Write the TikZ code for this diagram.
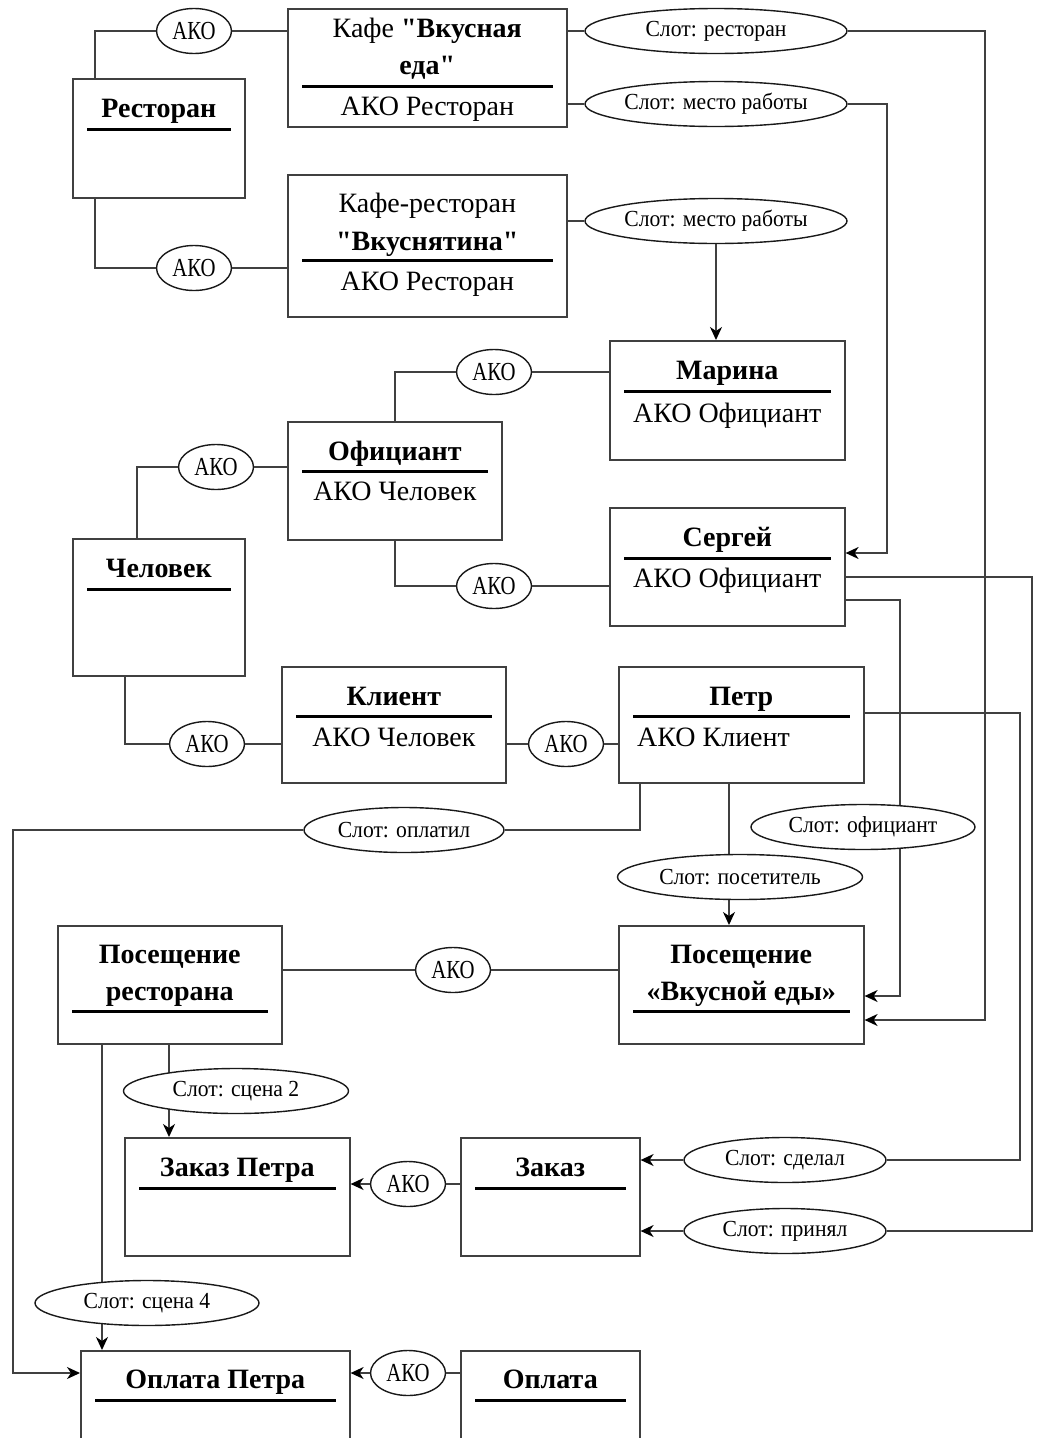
\documentclass[tikz,border=0pt]{standalone}
\usepackage{fontspec}
\setmainfont{Liberation Serif}[Ligatures=TeXOff]
\newfontfamily\akofont{Liberation Serif}[FakeStretch=0.8]
\newfontfamily\slotfont{Liberation Serif}[FakeStretch=0.94]
\usetikzlibrary{shapes.geometric, arrows.meta, positioning, calc}
\tikzstyle{frm} = [rectangle, draw=black!75, line width=1.6pt, anchor=north west, inner sep=0pt]
\tikzstyle{ttl} = [font=\fontsize{28}{32}\selectfont\bfseries, anchor=base, inner sep=0pt]
\tikzstyle{txt} = [font=\fontsize{28}{32}\selectfont, anchor=base, inner sep=0pt]
\tikzstyle{underl} = [line width=3pt]
\tikzstyle{ako} = [ellipse, draw=black!90, line width=1.4pt, fill=white, minimum width=75pt, minimum height=45pt, inner sep=0pt, font=\akofont\fontsize{26}{30}\selectfont]
\tikzstyle{slot} = [ellipse, draw=black!90, line width=1.4pt, fill=white, minimum height=45pt, inner sep=0pt, font=\slotfont\fontsize{23}{27}\selectfont]
\tikzstyle{conn} = [draw=black!75, line width=1.6pt]
\tikzstyle{arrow} = [conn, -{Stealth[length=13pt, width=12pt, inset=4pt, black]}]

\begin{document}
\begin{tikzpicture}[x=1pt, y=-1pt]
\useasboundingbox (0,0) rectangle (1040,1438);
\clip (0,0) rectangle (1040,1438);

% frames
\node (rest) [frm, minimum width=172pt, minimum height=119pt] at (72,78) {};
\node (restT) [ttl] at ([yshift=-39pt]rest.north) {Ресторан};
\draw [underl] ([xshift=15pt, yshift=-51pt]rest.north west) -- ([xshift=-15pt, yshift=-51pt]rest.north east);

\node (cafe) [frm, minimum width=279pt, minimum height=118pt] at (287,8) {};
\node (cafeT) [txt] at ([yshift=-29pt]cafe.north) {Кафе \textbf{"Вкусная}};
\node (cafeT2) [ttl] at ([yshift=-66pt]cafe.north) {еда"};
\draw [underl] ([xshift=15pt, yshift=-78pt]cafe.north west) -- ([xshift=-15pt, yshift=-78pt]cafe.north east);
\node (cafeS) [txt] at ([yshift=-107pt]cafe.north) {АКО Ресторан};

\node (vkus) [frm, minimum width=279pt, minimum height=142pt] at (287,174) {};
\node (vkusT) [txt] at ([yshift=-38pt]vkus.north) {Кафе-ресторан};
\node (vkusT2) [ttl] at ([yshift=-76pt]vkus.north) {"Вкуснятина"};
\draw [underl] ([xshift=15pt, yshift=-86pt]vkus.north west) -- ([xshift=-15pt, yshift=-86pt]vkus.north east);
\node (vkusS) [txt] at ([yshift=-116pt]vkus.north) {АКО Ресторан};

\node (marina) [frm, minimum width=235pt, minimum height=119pt] at (609,340) {};
\node (marinaT) [ttl] at ([yshift=-39pt]marina.north) {Марина};
\draw [underl] ([xshift=15pt, yshift=-51pt]marina.north west) -- ([xshift=-15pt, yshift=-51pt]marina.north east);
\node (marinaS) [txt] at ([yshift=-82pt]marina.north) {АКО Официант};

\node (waiter) [frm, minimum width=214pt, minimum height=118pt] at (287,421) {};
\node (waiterT) [ttl] at ([yshift=-39pt]waiter.north) {Официант};
\draw [underl] ([xshift=15pt, yshift=-50pt]waiter.north west) -- ([xshift=-15pt, yshift=-50pt]waiter.north east);
\node (waiterS) [txt] at ([yshift=-79pt]waiter.north) {АКО Человек};

\node (sergey) [frm, minimum width=235pt, minimum height=118pt] at (609,507) {};
\node (sergeyT) [ttl] at ([yshift=-39pt]sergey.north) {Сергей};
\draw [underl] ([xshift=15pt, yshift=-51pt]sergey.north west) -- ([xshift=-15pt, yshift=-51pt]sergey.north east);
\node (sergeyS) [txt] at ([yshift=-80pt]sergey.north) {АКО Официант};

\node (human) [frm, minimum width=172pt, minimum height=137pt] at (72,538) {};
\node (humanT) [ttl] at ([yshift=-39pt]human.north) {Человек};
\draw [underl] ([xshift=15pt, yshift=-51pt]human.north west) -- ([xshift=-15pt, yshift=-51pt]human.north east);

\node (client) [frm, minimum width=224pt, minimum height=116pt] at (281,666) {};
\node (clientT) [ttl] at ([yshift=-39pt]client.north) {Клиент};
\draw [underl] ([xshift=15pt, yshift=-50pt]client.north west) -- ([xshift=-15pt, yshift=-50pt]client.north east);
\node (clientS) [txt] at ([yshift=-80pt]client.north) {АКО Человек};

\node (petr) [frm, minimum width=245pt, minimum height=116pt] at (618,666) {};
\node (petrT) [ttl] at ([yshift=-39pt]petr.north) {Петр};
\draw [underl] ([xshift=15pt, yshift=-50pt]petr.north west) -- ([xshift=-15pt, yshift=-50pt]petr.north east);
\node (petrS) [txt, anchor=base west] at ([xshift=19pt, yshift=-80pt]petr.north west) {АКО Клиент};

\node (visit) [frm, minimum width=224pt, minimum height=118pt] at (57,925) {};
\node (visitT) [ttl] at ([yshift=-38pt]visit.north) {Посещение};
\node (visitT2) [ttl] at ([yshift=-75pt]visit.north) {ресторана};
\draw [underl] ([xshift=15pt, yshift=-86pt]visit.north west) -- ([xshift=-15pt, yshift=-86pt]visit.north east);

\node (tasty) [frm, minimum width=245pt, minimum height=118pt] at (618,925) {};
\node (tastyT) [ttl] at ([yshift=-38pt]tasty.north) {Посещение};
\node (tastyT2) [ttl] at ([yshift=-75pt]tasty.north) {«Вкусной еды»};
\draw [underl] ([xshift=15pt, yshift=-86pt]tasty.north west) -- ([xshift=-15pt, yshift=-86pt]tasty.north east);

\node (orderP) [frm, minimum width=225pt, minimum height=118pt] at (124,1137) {};
\node (orderPT) [ttl] at ([yshift=-39pt]orderP.north) {Заказ Петра};
\draw [underl] ([xshift=15pt, yshift=-51pt]orderP.north west) -- ([xshift=-15pt, yshift=-51pt]orderP.north east);

\node (order) [frm, minimum width=179pt, minimum height=118pt] at (460,1137) {};
\node (orderT) [ttl] at ([yshift=-39pt]order.north) {Заказ};
\draw [underl] ([xshift=15pt, yshift=-51pt]order.north west) -- ([xshift=-15pt, yshift=-51pt]order.north east);

\node (payP) [frm, minimum width=269pt, minimum height=120pt] at (80,1350) {};
\node (payPT) [ttl] at ([yshift=-38pt]payP.north) {Оплата Петра};
\draw [underl] ([xshift=15pt, yshift=-50pt]payP.north west) -- ([xshift=-15pt, yshift=-50pt]payP.north east);

\node (pay) [frm, minimum width=179pt, minimum height=120pt] at (460,1350) {};
\node (payT) [ttl] at ([yshift=-38pt]pay.north) {Оплата};
\draw [underl] ([xshift=15pt, yshift=-50pt]pay.north west) -- ([xshift=-15pt, yshift=-50pt]pay.north east);

% lines running behind the slot ellipses
\draw [arrow] (sergey.east |- 0,600) -- (900,600) -- (900,996) -- (tasty.east |- 0,996);
\draw [arrow] (petr.south -| 729,0) -- (tasty.north -| 729,0);
\draw [arrow] (visit.south -| 169,0) -- (orderP.north -| 169,0);
\draw [arrow] (visit.south -| 102,0) -- (payP.north -| 102,0);

% ellipses
\node (a1) [ako] at (194,31) {АКО};
\node (a2) [ako] at (194,268) {АКО};
\node (a3) [ako] at (494,372) {АКО};
\node (a4) [ako] at (216,467) {АКО};
\node (a5) [ako] at (494,586) {АКО};
\node (a6) [ako] at (207,744) {АКО};
\node (a7) [ako] at (566,744) {АКО};
\node (a8) [ako] at (453,970) {АКО};
\node (a9) [ako] at (408,1184) {АКО};
\node (a10) [ako] at (408,1373) {АКО};

\node (sRest) [slot, minimum width=262pt] at (716,31) {Слот: ресторан};
\node (sWork1) [slot, minimum width=262pt] at (716,104) {Слот: место работы};
\node (sWork2) [slot, minimum width=262pt] at (716,221) {Слот: место работы};
\node (sPaid) [slot, minimum width=200pt] at (404,830) {Слот: оплатил};
\node (sWaiter) [slot, minimum width=224pt] at (863,827) {Слот: официант};
\node (sVisitor) [slot, minimum width=245pt] at (740,877) {Слот: посетитель};
\node (sScene2) [slot, minimum width=225pt] at (236,1091) {Слот: сцена 2};
\node (sMade) [slot, minimum width=202pt] at (785,1160) {Слот: сделал};
\node (sTook) [slot, minimum width=202pt] at (785,1231) {Слот: принял};
\node (sScene4) [slot, minimum width=224pt] at (147,1303) {Слот: сцена 4};

% restaurants
\draw [conn] (rest.north -| 95,0) |- (a1.west);
\draw [conn] (a1.east) -- (cafe.west |- a1.east);
\draw [conn] (rest.south -| 95,0) |- (a2.west);
\draw [conn] (a2.east) -- (vkus.west |- a2.east);
\draw [conn] (cafe.east |- sRest.west) -- (sRest.west);
\draw [arrow] (sRest.east) -| (985,1020) -- (tasty.east |- 0,1020);
\draw [conn] (cafe.east |- sWork1.west) -- (sWork1.west);
\draw [arrow] (sWork1.east) -| (887,553) -- (sergey.east |- 0,553);
\draw [conn] (vkus.east |- sWork2.west) -- (sWork2.west);
\draw [arrow] (sWork2.south) -- (marina.north -| sWork2.south);

% waiters
\draw [conn] (waiter.north) |- (a3.west);
\draw [conn] (a3.east) -- (marina.west |- a3.east);
\draw [conn] (waiter.south) |- (a5.west);
\draw [conn] (a5.east) -- (sergey.west |- a5.east);
\draw [conn] (human.north -| 137,0) |- (a4.west);
\draw [conn] (a4.east) -- (waiter.west |- a4.east);
\draw [conn] (sergey.east |- 0,577) -| (1032,1231) -- (sTook.east);
\draw [arrow] (sTook.west) -- (order.east |- sTook.west);

% clients
\draw [conn] (human.south -| 125,0) |- (a6.west);
\draw [conn] (a6.east) -- (client.west |- a6.east);
\draw [conn] (client.east |- a7.west) -- (a7.west);
\draw [conn] (a7.east) -- (petr.west |- a7.east);
\draw [conn] (petr.east |- 0,713) -| (1020,1160) -- (sMade.east);
\draw [arrow] (sMade.west) -- (order.east |- sMade.west);
\draw [conn] (petr.south -| 640,0) |- (sPaid.east);
\draw [arrow] (sPaid.west) -| (13,1373) -- (payP.west |- 0,1373);

% visits, orders, payments
\draw [conn] (visit.east |- a8.west) -- (a8.west);
\draw [conn] (a8.east) -- (tasty.west |- a8.east);
\draw [conn] (order.west |- a9.east) -- (a9.east);
\draw [arrow] (a9.west) -- (orderP.east |- a9.west);
\draw [conn] (pay.west |- a10.east) -- (a10.east);
\draw [arrow] (a10.west) -- (payP.east |- a10.west);
\end{tikzpicture}
\end{document}
